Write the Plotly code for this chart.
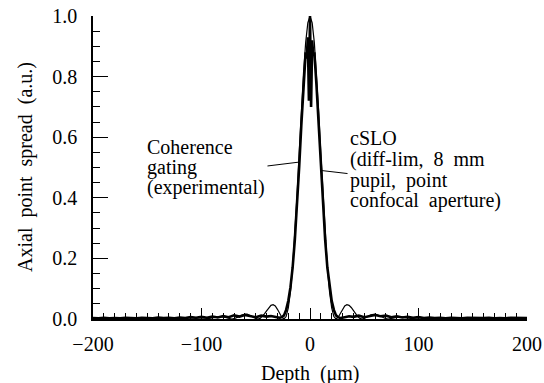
import plotly.graph_objects as go

# cSLO theoretical axial PSF (thin line)
cslo_x = [-200, -100, -96, -90, -84, -78, -72, -70, -68, -66, -64, -62, -60, -58, -56, -54, -52, -50, -48,
          -46, -44, -42, -40, -38, -36, -34, -32, -30, -28, -26, -24, -22, -20, -18, -16, -14, -12, -10,
          -8, -6, -4, -2, 0, 2, 4, 6, 8, 10, 12, 14, 16, 18, 20, 22, 24, 26, 28, 30, 32, 34, 36, 38, 40,
          42, 44, 46, 48, 50, 52, 54, 56, 58, 60, 62, 64, 66, 68, 70, 72, 78, 84, 90, 96, 100, 200]
cslo_y = [0.0, 0.0, 0.0, 0.004, 0.008, 0.005, 0.0, 0.001, 0.003, 0.007, 0.011, 0.014, 0.016, 0.016, 0.014,
          0.010, 0.005, 0.002, 0.0, 0.002, 0.008, 0.017, 0.027, 0.038, 0.045, 0.047, 0.043, 0.032, 0.019,
          0.006, 0.0, 0.008, 0.037, 0.090, 0.171, 0.278, 0.405, 0.545, 0.684, 0.811, 0.912, 0.977, 1.0,
          0.977, 0.912, 0.811, 0.684, 0.545, 0.405, 0.278, 0.171, 0.090, 0.037, 0.008, 0.0, 0.006, 0.019,
          0.032, 0.043, 0.047, 0.045, 0.038, 0.027, 0.017, 0.008, 0.002, 0.0, 0.002, 0.005, 0.010, 0.014,
          0.016, 0.016, 0.014, 0.011, 0.007, 0.003, 0.001, 0.0, 0.005, 0.008, 0.004, 0.0, 0.0, 0.0]

# Coherence gating, experimental (thick line)
exp_x = [-200, -195, -190, -185, -180, -175, -170, -165, -160, -155, -150, -145, -140, -135, -130, -125,
         -120, -115, -110, -105, -100, -95, -90, -85, -80, -75, -70, -65, -60, -55, -50, -45, -40, -36,
         -32, -28, -26, -24, -22, -20, -18, -16, -14, -12, -10, -8, -6, -4, -3, -2, -1, 0, 1, 2, 3, 4,
         6, 8, 10, 12, 14, 16, 18, 20, 22, 24, 26, 28, 32, 36, 40, 45, 50, 55, 60, 65, 70, 75, 80, 85,
         90, 95, 100, 105, 110, 115, 120, 125, 130, 135, 140, 145, 150, 155, 160, 165, 170, 175, 180,
         185, 190, 195, 200]
exp_y = [0.003, 0.002, 0.004, 0.002, 0.003, 0.002, 0.004, 0.003, 0.002, 0.004, 0.003, 0.002, 0.005,
         0.003, 0.004, 0.002, 0.005, 0.003, 0.006, 0.004, 0.007, 0.004, 0.008, 0.005, 0.010, 0.006,
         0.012, 0.008, 0.013, 0.010, 0.006, 0.011, 0.008, 0.010, 0.006, 0.004, 0.006, 0.012, 0.030,
         0.060, 0.105, 0.170, 0.260, 0.370, 0.500, 0.640, 0.770, 0.880, 0.860, 0.930, 0.720, 1.0,
         0.700, 0.920, 0.870, 0.880, 0.770, 0.640, 0.500, 0.370, 0.260, 0.170, 0.105, 0.060, 0.030,
         0.012, 0.006, 0.003, 0.006, 0.009, 0.007, 0.011, 0.006, 0.010, 0.013, 0.009, 0.011, 0.006,
         0.009, 0.005, 0.007, 0.004, 0.006, 0.003, 0.005, 0.003, 0.004, 0.002, 0.004, 0.003, 0.002,
         0.004, 0.003, 0.002, 0.003, 0.004, 0.002, 0.003, 0.002, 0.004, 0.003, 0.002, 0.003]

x_ticks = [-200, -100, 0, 100, 200]
x_ticktext = ["\u2212200", "\u2212100", "0", "100", "200"]
y_ticks = [0.0, 0.2, 0.4, 0.6, 0.8, 1.0]
y_ticktext = ["0.0", "0.2", "0.4", "0.6", "0.8", "1.0"]

FONT = "Liberation Serif"
FS = 20

L, R, T, B = 93, 17, 16, 64
PW, PH = 544 - L - R, 383 - T - B

fig = go.Figure()
fig.add_trace(go.Scatter(x=cslo_x, y=cslo_y, mode="lines",
                         line=dict(color="black", width=1.2), showlegend=False))
fig.add_trace(go.Scatter(x=exp_x, y=exp_y, mode="lines",
                         line=dict(color="black", width=2.6), showlegend=False))

# pointer lines
fig.add_shape(type="line", x0=-39.2, y0=0.505, x1=-9.7, y1=0.518,
              line=dict(color="black", width=1))
fig.add_shape(type="line", x0=10.6, y0=0.49, x1=34.6, y1=0.48,
              line=dict(color="black", width=1))

def py(yp):
    return (383 - B - yp) / PH

def px(xp):
    return (xp - L) / PW

for txt, yp in [("Coherence", 147), ("gating", 167), ("(experimental)", 187)]:
    fig.add_annotation(x=px(145), y=py(yp), xref="paper", yref="paper", text=txt,
                       showarrow=False, xanchor="left", yanchor="middle",
                       font=dict(family=FONT, size=FS, color="black"))
for txt, yp in [("cSLO", 138), ("(diff-lim,\u00a0 8\u00a0 mm", 159),
                ("pupil,\u00a0 point", 180), ("confocal\u00a0 aperture)", 201)]:
    fig.add_annotation(x=px(348), y=py(yp), xref="paper", yref="paper", text=txt,
                       showarrow=False, xanchor="left", yanchor="middle",
                       font=dict(family=FONT, size=FS, color="black"))

# axis titles
fig.add_annotation(x=px(310), y=py(373), xref="paper", yref="paper",
                   text="Depth\u00a0\u00a0(\u03bcm)", showarrow=False,
                   xanchor="center", yanchor="middle",
                   font=dict(family=FONT, size=FS, color="black"))
fig.add_annotation(x=px(25), y=py(167), xref="paper", yref="paper",
                   text="Axial\u00a0 point\u00a0 spread\u00a0 (a.u.)", showarrow=False,
                   textangle=-90, xanchor="center", yanchor="middle",
                   font=dict(family=FONT, size=FS, color="black"))

fig.update_layout(
    width=544, height=383,
    margin=dict(l=L, r=R, t=T, b=B, autoexpand=False),
    plot_bgcolor="white", paper_bgcolor="white",
    font=dict(family=FONT, size=FS, color="black"),
    xaxis=dict(range=[-200, 200], tickvals=x_ticks, ticktext=x_ticktext,
               ticks="inside", ticklen=11, tickwidth=1.2, tickcolor="black",
               minor=dict(dtick=10, ticks="inside", ticklen=6, tickwidth=1, tickcolor="black"),
               showline=True, linecolor="black", linewidth=2, showgrid=False, zeroline=False,
               ticklabelstandoff=6, automargin=False,
               tickfont=dict(family=FONT, size=FS, color="black")),
    yaxis=dict(range=[0, 1.0], tickvals=y_ticks, ticktext=y_ticktext,
               ticks="inside", ticklen=15, tickwidth=1.2, tickcolor="black",
               minor=dict(dtick=0.05, ticks="inside", ticklen=7, tickwidth=1, tickcolor="black"),
               showline=True, linecolor="black", linewidth=1.5, showgrid=False, zeroline=False,
               ticklabelstandoff=10, automargin=False,
               tickfont=dict(family=FONT, size=FS, color="black")),
)

fig.write_html("out.html", config={"displayModeBar": False},
               post_script="document.body.style.margin='0';document.body.style.padding='0';")
